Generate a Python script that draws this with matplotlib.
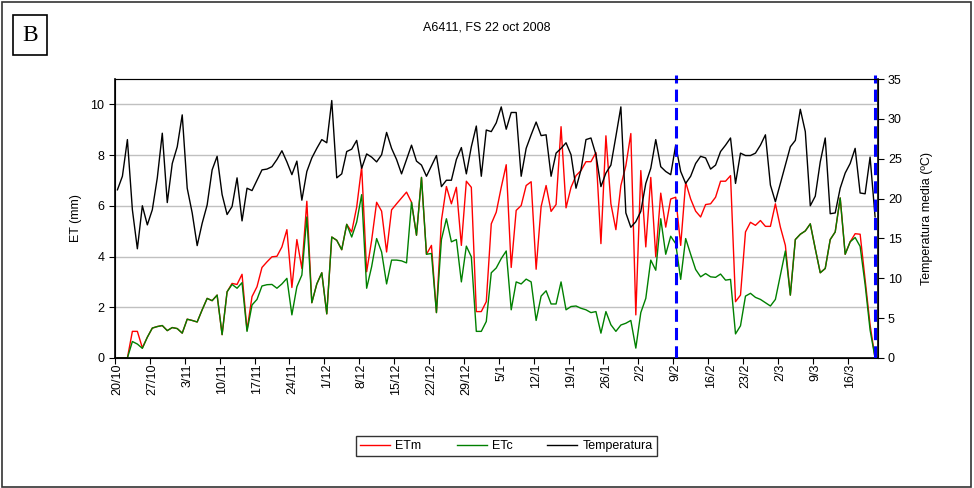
import matplotlib
matplotlib.use('Agg')
import matplotlib.pyplot as plt
from matplotlib.patches import Rectangle
from matplotlib.lines import Line2D

plt.rcParams['font.family'] = ['Liberation Sans', 'DejaVu Sans']

# daily series, 20/10/2008 .. 21/3/2009 (153 days)
etm = [0, 0, 0, 1.05, 1.05, 0.4, 0.82, 1.18, 1.24, 1.28, 1.08, 1.2, 1.16, 0.98, 1.53, 1.48, 1.42, 1.9, 2.35, 2.26, 2.48, 0.92, 2.61, 2.94, 2.9, 3.3,
       1.1, 2.42, 2.81, 3.57, 3.79, 3.99, 4.01, 4.38, 5.06, 2.78, 4.67, 3.53, 6.18, 2.18, 2.92, 3.36, 1.74, 4.77, 4.64, 4.27, 5.27, 4.97, 5.95, 7.54, 3.4,
       4.64, 6.14, 5.79, 4.18, 5.84, 6.08, 6.31, 6.54, 6.14, 4.84, 7.12, 4.09, 4.44, 1.79, 5.42, 6.76, 6.08, 6.73, 4.44, 6.97, 6.73, 1.83, 1.83, 2.22, 5.29, 5.75,
       6.73, 7.62, 3.57, 5.82, 6.01, 6.8, 6.95, 3.5, 5.97, 6.8, 5.78, 6.05, 9.12, 5.92, 6.73, 7.19, 7.39, 7.74, 7.74, 8.1, 4.51, 8.76, 6.08, 5.06, 6.8,
       7.58, 8.85, 1.7, 7.39, 4.38, 7.12, 3.99, 6.5, 5.16, 6.27, 6.34, 4.44, 6.93, 6.27, 5.79, 5.56, 6.05, 6.08, 6.34, 6.97, 6.97, 7.19, 2.22, 2.48, 4.97, 5.35,
       5.23, 5.42, 5.19, 5.19, 6.08, 5.16, 4.44, 2.48, 4.67, 4.88, 5.01, 5.29, 4.31, 3.36, 3.53, 4.67, 4.97, 6.31, 4.09, 4.58, 4.9, 4.88, 3.1, 1.3, 0]
etc = [0, 0, 0, 0.65, 0.55, 0.38, 0.82, 1.18, 1.24, 1.28, 1.08, 1.2, 1.16, 0.98, 1.53, 1.48, 1.42, 1.9, 2.35, 2.26, 2.48, 0.92, 2.61, 2.9, 2.75, 2.97,
       1.05, 2.09, 2.31, 2.84, 2.89, 2.9, 2.75, 2.92, 3.14, 1.7, 2.81, 3.27, 5.56, 2.18, 2.92, 3.36, 1.74, 4.77, 4.64, 4.27, 5.27, 4.77, 5.36, 6.44, 2.75,
       3.6, 4.71, 4.18, 2.92, 3.86, 3.86, 3.83, 3.75, 6.14, 4.84, 7.12, 4.09, 4.12, 1.79, 4.67, 5.49, 4.58, 4.67, 3.0, 4.41, 3.99, 1.05, 1.05, 1.44, 3.36, 3.55,
       3.92, 4.22, 1.9, 3.0, 2.92, 3.11, 3.0, 1.48, 2.44, 2.65, 2.13, 2.13, 3.0, 1.9, 2.03, 2.05, 1.96, 1.9, 1.79, 1.83, 0.98, 1.83, 1.31, 1.05, 1.3,
       1.37, 1.48, 0.39, 1.79, 2.35, 3.86, 3.46, 5.49, 4.09, 4.8, 4.51, 3.1, 4.71, 4.09, 3.49, 3.2, 3.33, 3.2, 3.18, 3.31, 3.07, 3.1, 0.95, 1.27, 2.44, 2.55,
       2.39, 2.31, 2.18, 2.05, 2.31, 3.27, 4.22, 2.48, 4.67, 4.88, 5.01, 5.29, 4.31, 3.36, 3.53, 4.67, 4.97, 6.31, 4.09, 4.58, 4.75, 4.4, 2.9, 1.1, 0]
temp = [21.1, 22.8, 27.4, 18.6, 13.7, 19.1, 16.7, 18.6, 22.6, 28.2, 19.5, 24.4, 26.5, 30.5, 21.3, 18.2, 14.1, 16.9, 19.2, 23.6, 25.3, 20.5, 18.0, 19.0, 22.6, 17.2,
        21.3, 21.0, 22.3, 23.6, 23.7, 24.0, 24.9, 26.0, 24.6, 23.0, 24.7, 19.8, 23.4, 25.1, 26.3, 27.4, 27.0, 32.3, 22.6, 23.1, 25.9, 26.2, 27.3, 23.8, 25.6,
        25.2, 24.6, 25.5, 28.3, 26.3, 24.9, 23.1, 24.9, 26.7, 24.7, 24.2, 22.8, 24.1, 25.4, 21.5, 22.3, 22.3, 24.9, 26.4, 23.1, 26.5, 29.1, 22.8, 28.6, 28.4, 29.5,
        31.5, 28.7, 30.8, 30.8, 22.8, 26.3, 28.0, 29.6, 27.9, 28.0, 22.8, 25.7, 26.3, 27.0, 25.5, 21.3, 23.6, 27.4, 27.6, 25.5, 21.5, 23.2, 24.2, 27.8, 31.5,
        18.2, 16.4, 17.1, 18.4, 21.9, 23.8, 27.4, 24.0, 23.4, 23.0, 26.7, 23.4, 21.9, 22.8, 24.4, 25.3, 25.1, 23.7, 24.2, 25.9, 26.7, 27.6, 21.9, 25.7, 25.4, 25.4,
        25.7, 26.7, 28.0, 21.7, 19.6, 21.9, 24.2, 26.5, 27.3, 31.2, 28.4, 19.1, 20.3, 24.6, 27.6, 18.1, 18.2, 21.3, 23.2, 24.4, 26.3, 20.7, 20.6, 25.2, 17.7]
week_labels = ['20/10', '27/10', '3/11', '10/11', '17/11', '24/11', '1/12', '8/12', '15/12', '22/12', '29/12',
               '5/1', '12/1', '19/1', '26/1', '2/2', '9/2', '16/2', '23/2', '2/3', '9/3', '16/3']
marks = [112, 152]   # 9/2 and 21/3

days = list(range(len(temp)))

fig = plt.figure(figsize=(9.74, 4.88), dpi=100)
fig.patches.append(Rectangle((0.002, 0.002), 0.995, 0.993, transform=fig.transFigure,
                             fill=False, ec='#333333', lw=1.2))

ax = fig.add_axes([0.118, 0.2664, 0.783, 0.5717])
ax.plot(days, etm, color='#ff0000', lw=1.0)
ax.plot(days, etc, color='#008000', lw=1.0)
ax.set_xlim(-0.5, len(days) - 0.5)
ax.set_ylim(0, 11)
ax.set_yticks(range(0, 11, 2))
ax.grid(axis='y', color='#c0c0c0', lw=1)
ax.set_axisbelow(True)
ax.set_ylabel('ET (mm)', fontsize=9, labelpad=6)
ax.tick_params(axis='y', labelsize=9, direction='out', length=4)
ax.set_xticks([i - 0.5 for i in range(0, len(days), 7)])
ax.set_xticklabels([])
ax.set_xticks(range(0, 7 * len(week_labels), 7), minor=True)
ax.set_xticklabels(week_labels, minor=True, rotation=90, fontsize=9)
ax.tick_params(axis='x', which='major', direction='out', length=4)
ax.tick_params(axis='x', which='minor', length=0, pad=4)
for s in ['left', 'bottom']:
    ax.spines[s].set_color('black')
    ax.spines[s].set_linewidth(1.2)
ax.spines['top'].set_color('#555555')

ax2 = ax.twinx()
ax2.plot(days, temp, color='black', lw=1.0)
ax2.set_ylim(0, 35)
ax2.set_yticks(range(0, 36, 5))
ax2.tick_params(axis='y', labelsize=9, direction='out', length=4)
ax2.set_ylabel('Temperatura media (ºC)', fontsize=9, labelpad=14)
ax2.spines['right'].set_linewidth(1.2)
for m in marks:
    ax2.axvline(m, ymin=0, ymax=1.015, color='#0000ff', lw=2.2, ls=(0, (4, 2)), clip_on=False)

fig.text(0.5, 0.943, 'A6411, FS 22 oct 2008', ha='center', va='center', fontsize=9)
fig.text(0.031, 0.928, 'B', ha='center', va='center', fontsize=17, family='Liberation Serif',
         bbox=dict(boxstyle='square,pad=0.4', fc='white', ec='black', lw=1.2))

handles = [Line2D([], [], color='#ff0000', lw=1), Line2D([], [], color='#008000', lw=1),
           Line2D([], [], color='black', lw=1)]
leg = fig.legend(handles, ['ETm', 'ETc', 'Temperatura'], loc='center', bbox_to_anchor=(0.52, 0.086),
                 ncol=3, fontsize=9, frameon=True, fancybox=False, handlelength=2.4,
                 handletextpad=0.4, columnspacing=2.8, borderpad=0.35)
leg.get_frame().set_edgecolor('black')
leg.get_frame().set_linewidth(1)

fig.savefig('out.png', dpi=100)
